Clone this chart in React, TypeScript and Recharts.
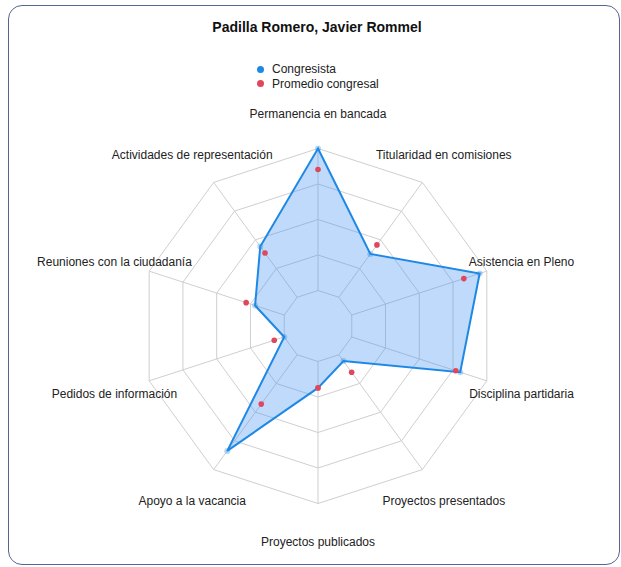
import { RadarChart, Radar, PolarGrid, PolarAngleAxis, PolarRadiusAxis } from "recharts";

const CATEGORIES = [
  "Permanencia en bancada",
  "Titularidad en comisiones",
  "Asistencia en Pleno",
  "Disciplina partidaria",
  "Proyectos presentados",
  "Proyectos publicados",
  "Apoyo a la vacancia",
  "Pedidos de información",
  "Reuniones con la ciudadanía",
  "Actividades de representación",
];
const CONGRESISTA = [100, 37.7, 94.7, 80.3, 5.5, 18.6, 83.7, 0, 21.6, 44.2];
const PROMEDIO = [85.2, 45.6, 83, 77, 15.3, 18.6, 43, 7.4, 28.2, 38.5];
const RADIUS_TICKS = [0, 25, 50, 75, 100];

const BLUE = "#1e88e5";
const RED = "#e0465c";
const CX = 318;
const CY = 326;
const LABEL_R = 214;

const data = CATEGORIES.map((c, i) => ({ cat: c, congresista: CONGRESISTA[i], promedio: PROMEDIO[i] }));

const FONT = '"Liberation Sans", Arial, sans-serif';

function AngleTick(props: any) {
  const a = (props.payload.coordinate * Math.PI) / 180;
  const x = CX + LABEL_R * Math.cos(a);
  const y = CY - LABEL_R * Math.sin(a) + 2;
  return (
    <text x={x} y={y} textAnchor="middle" dominantBaseline="central" fontSize={12} fill="#222" fontFamily={FONT}>
      {props.payload.value}
    </text>
  );
}

export default function App() {
  return (
    <div style={{ position: "relative", width: 621, height: 567, overflow: "hidden", fontFamily: FONT, background: "#fff" }}>
      <style>{`body{margin:0}`}</style>
      <div
        style={{
          position: "absolute", left: 8, top: 5, width: 612, height: 560,
          border: "1.5px solid #55658f", borderRadius: 14, boxSizing: "border-box",
        }}
      />
      <div style={{ position: "absolute", left: 0, width: 634, top: 19, textAlign: "center", fontWeight: "bold", fontSize: 14, color: "#111" }}>
        Padilla Romero, Javier Rommel
      </div>
      <div style={{ position: "absolute", left: 257, top: 62, fontSize: 12, color: "#222", lineHeight: "14.5px" }}>
        {[["Congresista", BLUE], ["Promedio congresal", RED]].map(([t, c]) => (
          <div key={t} style={{ display: "flex", alignItems: "center" }}>
            <span style={{ width: 7, height: 7, borderRadius: "50%", background: c, marginRight: 8, display: "inline-block" }} />
            {t}
          </div>
        ))}
      </div>
      <div style={{ position: "absolute", left: 0, top: 0 }}>
        <RadarChart width={621} height={567} data={data} cx={CX} cy={CY} innerRadius={35.5} outerRadius={177.5}>
          <PolarGrid gridType="polygon" stroke="#cfcfcf" />
          <PolarAngleAxis dataKey="cat" tick={AngleTick} axisLine={false} tickLine={false} />
          <PolarRadiusAxis domain={[0, 100]} ticks={RADIUS_TICKS as any} tickCount={5} axisLine={false} tick={false} />
          <Radar
            dataKey="congresista"
            stroke={BLUE}
            strokeWidth={2}
            fill="#3d8ef0"
            fillOpacity={0.33}
            dot={{ r: 3, fill: BLUE, stroke: "none" }}
            isAnimationActive={false}
          />
          <Radar
            dataKey="promedio"
            stroke="none"
            fill="none"
            dot={{ r: 2.8, fill: RED, stroke: "none" }}
            isAnimationActive={false}
          />
        </RadarChart>
      </div>
    </div>
  );
}
